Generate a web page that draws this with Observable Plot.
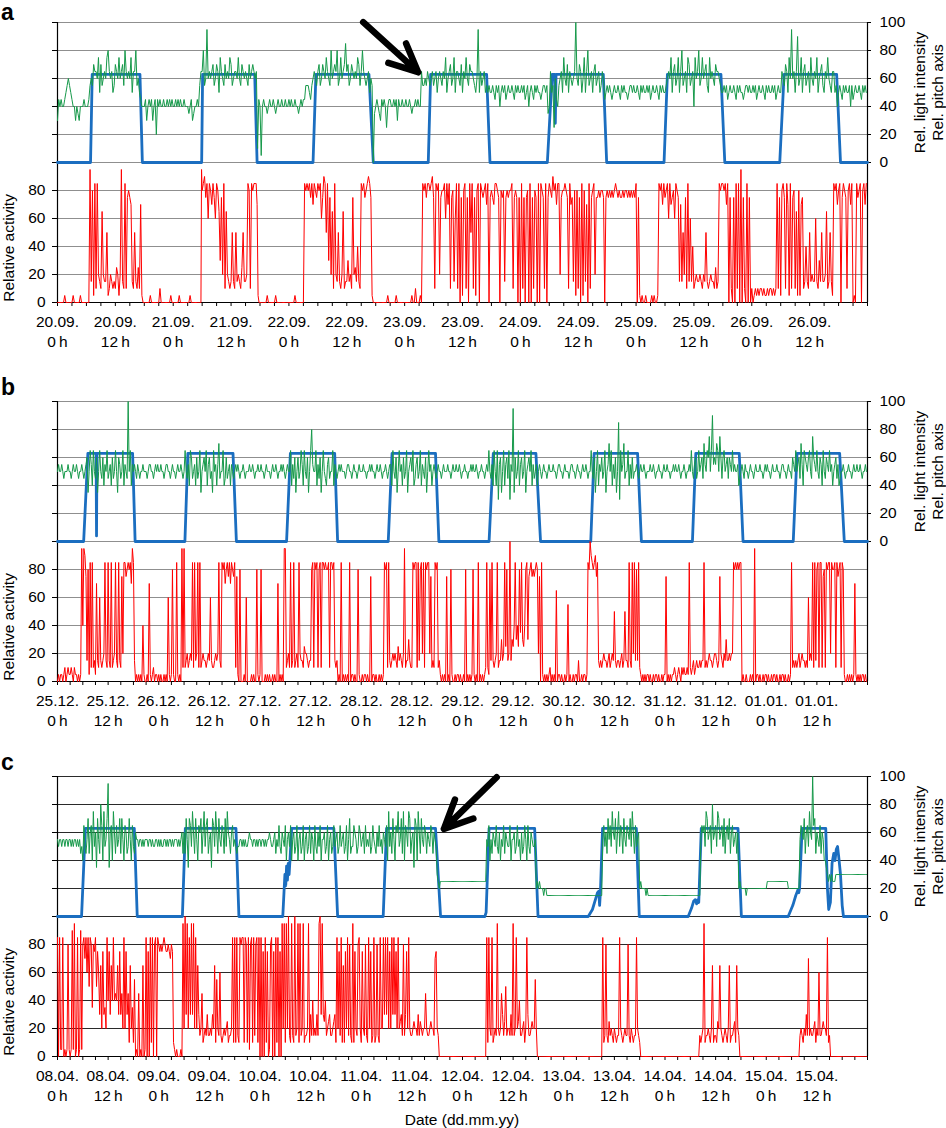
<!DOCTYPE html>
<html><head><meta charset="utf-8">
<script src="https://cdn.jsdelivr.net/npm/d3@7"></script>
<script src="https://cdn.jsdelivr.net/npm/@observablehq/plot@0.6"></script>
<style>
body{margin:0;background:#fff;}
#chart{width:946px;height:1128px;overflow:hidden;background:#fff;}
#chart svg{display:block;}
</style></head><body><div id="chart"></div>
<script>
// ---------- tick labels ----------
const daysA = ["20.09.","21.09.","22.09.","23.09.","24.09.","25.09.","26.09."];
const daysB = ["25.12.","26.12.","27.12.","28.12.","29.12.","30.12.","31.12.","01.01."];
const daysC = ["08.04.","09.04.","10.04.","11.04.","12.04.","13.04.","14.04.","15.04."];
const hourLabels = ["0\u2009h", "12\u2009h"];
const leftTicks = [0, 20, 40, 60, 80];
const rightTicks = [0, 20, 40, 60, 80, 100];
const leftTitle = "Relative activity";
const rightTitle = "Rel. light intensity\nRel. pitch axis";
const xTitle = "Date (dd.mm.yy)";

// ---------- series values ----------
// Noisy series: one string per day, 24 space-separated hour chunks;
// each character is one reading inside that hour, in steps of 5:
// 0=0 a=5 1=10 b=15 2=20 c=25 3=30 d=35 4=40 e=45 5=50 f=55 6=60 g=65 7=70 h=75 8=80 i=85 9=90 j=95 k=100
const activityA = [
"0000 00a0 0000 0a00 000a 0000 000j b8ai 1i2b 1g2b b5a1 2b1b 1c2a 2jb1 i1h8 h7b1 5b1c 17a0 0000 0a00 0000 0100 0000 00a0",
"0000 0a00 0000 00a0 0000 0000000j 8i9h i6i8 7ih6 i8g3 h2i1 g2b1 b5b1 5b2b 1c5b b2i8 1i8i ii7a0 0000 00a0 0000 0a00 0000 0000",
"0000 0a00 0000 0i8i 8ihi 7i8h i8i6 h9i5 i3h2 g1i2 b5b1 2g1b b3b2 1h2c b4b1 i8ih 8i9i ha00 0000 0000 00a0 0000 0a00 0000",
"0000 00a0 0100 0a0i 8ihi i8i9 h1i8 i2h8 8i6i 7i1h 8b6i 1i0h a8i1 h0i5 i1ha 8i0i 8h8i 7i0h 8h7i i8h0 8h8b h8h8 8i1h 8h0h",
"0i1h 0h80 i0h1 8h0i 0i8h 1i0h i8h9 8i7i i2h8 8i8h 1i7h b8a8 1h0i a8b7 0i1h 8i2h h8h8 8h0h 8h8h 8h8i 8h8h h8h8 8h8h 8h8h",
"i0ha 0a00 a000 0a0a 00ai 8i7i h8i6 i7h8 6i8h b7b5 2h1i b6b4 1b2b b2b1 2b5b 1b2b b1c1 bi8i i8i7 i0h1 0h0i 1i0j 0h10 i0h0",
"10a1 a1a1 1a1a a1a1 1a1a 1i1h a8ih 1i7a i1h8 1ga8 a7h1 b4b1 5b2b b6b1 3b5b b2g1 b5ba i8i7 8i0h i8h1 8i7i 0a0i h8i0 8i7i"
];
const pitchA = [
"3e4e 44e5 f6f5 e443 4d34 44e4 44ef 6f7g g6h5 7f6g 6h8g 6g5f 7g6h 6g7f 8g6g 6h5g g8f6 5e44 4e34 e4e3 4e2e 4e44 e44e 4e4e",
"44e4 e4e4 4e44 4d4e 3d44 e4fg g8f6 j6g6 g7f6 7g5h g6f7 6g6h 7f6g g6h6 f7g6 g6f7 6g7g 6g1e 4a4e 44d4 e44e 4d4e 44e4 4e44",
"e4e4 4e44 d4e4 eeff f5ef 6g6f g7f6 7g6h g6f8 6g7g 8f6h 6g7i g7f6 7g6g 6h7f g8g6 f6g5 6f0d 4e4d 3e4e 4c4e e44e 4e3e 44e4",
"4e44 e4d4 4e4e 44gf f6fg 6f6g f6g5 6g6f g6h5 6g7f 6h5g g6f7 5g6h 6f7g g6f5 6j5g f6g5 f5f5 5f5e f5f4 5f5f e5f5 5f5e f5f5",
"5f5f e5f4 5f5e f5f5 5e5f f5fd 4g5f c6e4 f6g5 h6f7 5g6f 6gk6 f7g5 6h5g 8f6g 5g7f 6g5f g6e5 f5f5 e5f5 5f5e f5f5 5e5f f5f5",
"5f5e f5f5 5f5f e5f5 5f5e f5f5 5f6g 6h5g 7f6h 5g8f 6g5h 7f6g 4h6g 8f6h 6g7f 5h6g 6f7g g6f5 5f5f e5f5 5f5e f5f5 5e5f f5f5",
"5f5f e5f5 5f5e f5f5 5f5f e5f5 5g6f 7g5h 6j6g 5g9f 6h5g 7f6g 5h6f g6h5 6g7f 5g6h 6f5g g5f4 5f5e f5f5 5f4f e5f5 5f5e f5f5"
];
const activityB = [
"0a0a a0a1 0a1a a1a0 1aa0 a0aj 4j9h b8ai 1i1b a7b1 6b1b 2ib1 ib1i 1b2i b1ib 1h2i ih8i 8i7j ib0a 0a0a 04a0 0a07 a0a1 0aa0",
"a0a0 0a0a 06a0 a8a0 0ia0 a0j1 j1b2 1b2b i1ib 2i1i 1b2b b1b2 b6b1 1b2b 2ib1 i8i7 8ihi 7i8h i1ha 0800 0a06 0000 a0a0 08a0",
"a800 0a0a 0a00 a0a0 070a 0a0j j1b2 1i1b i1b2 1i2b b1c2 2b1b b8i1 i8i1 8i1i i8i8 8i1i i8ib 1b0a 0i0a 0a0a 0i0a a0a0 08a0",
"0a0a a0a0 0h0a a0a0 0a0a 0ai8 i1ib 1b2b 2b1c b2b1 2j1b b3b1 1i8i i1ib 8i2i 1i8i i2h1 b1i8 i1ba 0a0a 0h0a 08a0 0a0a a0a0",
"0a08 0a0a 0a8a 0a0i 0a0a 0a1i 1a8b ib1b 2i1b b3b2 ic8b 2kb3 c4i3 4c8d i3c4 8i3h 8ih8 h8i8 2h0i a0a0 a0a1 0a0a 0g0a a0a0",
"0a0a f0a0 0a0a a0b0 0a0a a0ai 8k9i 8i9h ib1b 1b2b b1b2 1b2b 5b1b b1b2 1b5b b1ib 1i2i b8bi 1a0a 0a0a a0a0 0a0a a0a0 0a0a",
"ah0a 0a0a a1a0 a1a0 1a1a a1ai 1a1b a1b1 1b1b bi1b 1b2b b1b2 2b1b h2b1 2b3b b2b2 2i8i 8i8i i0a0 0a00 0a0a 0j0a a0a0 0a0a",
"a0a0 0a0a a0a0 0a0a a0a0 0a0a i1b1 b1b2 1b2b b1b1 6b2b i1ib 8i1i i1h8 1i8i i2i8 8i1i h8i1 i8a0 0a0a 0a0a 7a0a 0a0a a0a0"
];
const pitchB = [
"5f55 f5e5 55f5 5e5f 55f5 e55f 5e5f 6d5g f4g5 e6d5 g5e6 4f5g e5f4 6e5g 5d6f e5g4 f5ek 5g4f 5f5e f5e5 5f55 5e5f f55e 5f5f",
"55f5 5e5f f55e 5f55 e5f5 5f5e 5g5e f4g6 e5f4 6e5g d5f6 5g4f 6e5d g5f4 f7e5 5g4e 6e5f 4f5e 5f5f 5e55 f5e5 55f5 5f5e 55f5",
"5f55 e5f5 55e5 f55f 5e55 f5f5 e5f5 5g4f e6d5 6e5g f4g5 e6d5 g8f5 5g4f e6d5 g5e4 f6e5 5g4f 5e5f 5f55 5e5f f55e 5f55 e5f5",
"55f5 5e55 f5f5 5e5f 55f5 e55f 5e5f f4g5 e6d5 g5f4 6e5g d5f6 5g4e f6e5 g4f5 e6d5 g5f4 5f5e 5f55 e5f5 55f5 5e5f 55f5 5f5e",
"55f5 5e55 f5f5 5f5e 55f5 5e5f 5g5e f4g5 4g3f 6d5g 4f6e g3f5 jd6e 5g4f 6e5g d5f6 5g4f e5f4 5f5e 5f55 e5f5 55f5 5e5f f55e",
"5f55 5e5f f55e 5f55 e5f5 5f5e 55g5 e6d5 g4f5 6e5g d5f7 5g4f e6d5 i3g5 f7e5 5g4f e6e5 5f5e 5f55 f5e5 55f5 5f5e 55f5 5e5f",
"55f5 5e55 f5f5 5f5e 55f5 e55f 5g5e f6e5 g5f6 e7f5 g6h5 g9f6 f7g5 h6e6 g5f6 e6f5 g5f5 5f4e 5f5e f55e 5f55 e5f5 55f5 5e5f",
"5f55 e5f5 55f5 5e5f f55e 5f55 e6f5 g5f6 e7f4 g6f5 6g5e h6f5 g5e6 f4g5 e6f5 g5f4 5f6e f4e5 5f5e 55f5 5e5f 55f5 5f5e 55f5"
];
const activityC = [
"i0ia ai0a 0a8a 0a9a j0ai 0a9a 8i7i 6i5i 8d8h i5h6 3g2h 3d2i 4h3g 4i4e 4g3h 3e2i 2h3e 1g2d 1f0a 0e0a 0g0a i0h0 i1i0 8i0i",
"8h8h 8i8h h8h7 8h1a 0a00 0a0j 2k3j 2i3j 3j2i 2g3b 2e1b 2b3b b2b3 2g1f 2b6b 1b2b 2c1b b2i1 i1ib 1i8i i1i8 1ia8 i1ib 8i1i",
"0i0h 0i1h 0a8i 0h0i 1i0h 0j2j 1j2k b1jb 1kb2 j1jb 2j1b b2j1 3b4b 2b3b jk3j 3c4b 2c3b b2c3 1i2h bi1g 1h2i b8b1 j1h2 b8i2",
"1h2b 8b1i 2h1b i1b8 b1i2 2i3i 3i2h 2i3i 3h2i 2c3b 8b3h 2i2b b2c2 2b3b c2b2 2e2b b2c2 2b7h 2b00 0000 0000 0000 0000 0000",
"0000 0000 0000 0000 0000 000i 1i2b i1b2 bj2b 2e3b c5b2 2b3b jb2i 2c4b b2c1 2i3b b2c2 2f20 0000 0000 0000 0000 0000 0000",
"0000 0000 0000 0000 0000 0000 0000 0000 0000 0i1b 8b1c b2b1 2b1b bi2b 1b2b b8b1 2b1b bi2b 1000 0000 0000 0000 0000 0000",
"0000 0000 0000 0000 0000 0000 0000 0000 0b1b 2j1b b2b1 2g1b b1c2 g2b1 b2b1 2g1b b2c1 g2b0 0000 0000 0000 0000 0000 0000",
"0000 0000 0000 0000 0000 0000 0000 0000 b2b1 2b3b 7b2b b2c1 2b6b b2c2 2bi1 b000 0000 0000 0000 0000 0000 0000 0000 0000"
];
const pitchC = [
"f5ff 5ff5 ff5f f5f5 ff5f 5fe5 4g5e f7e6 g4h5 6d7f e8g4 h5f7 jd6g 4h6e g5f7 e7f4 g6e5 7f4g 5e6f f5ff 5f5f ff5f f5f5 5ff5",
"f5f5 5ff5 f5ff 5f5f ff5f 5f6e 6e7f d7g5 h6e7 f4g6 7e6h 5g7e f6d7 g5h6 e7f5 g6e7 5h6f e6g5 f5e5 5ff5 f5f5 5f6f f5ff 5f5f",
"f5ff 5f5f f6f5 5f6e f5g5 e6f5 g4f6 5g4f 6e5g 4f6e 5g4f 6e5g e6f4 g5e6 5g4f f6e5 g4f6 e5g5 f6e5 g5f6 e5g4 f7e5 5g6f e5g6",
"5f6e g5f5 6e5g f5e6 5g5f e6f5 g4h5 6e7f 4g6h 5f7e h4g6 5h7e f6d7 g4h6 e7f5 g6e6 f5g6 e6f5 3c2c cccc cccc cccc cccc cccc",
"cccc cccc cccc cccc cccc cccf 5g4f e6f5 g5e6 4f5g e6f5 5g4f f6e5 g5f4 6e5g f4g5 e6f5 5f2c 2c22 2b22 bbbb bbbb bbbb bbbb",
"bbbb bbbb bbbb bbbb bbbb bbbb bbbb bbbb bbbb bfg5 6e7f g5h6 f7e6 h5g6 e7f5 g6f7 5h6e g5f6 2c22 22b2 bbbb bbbb bbbb bbbb",
"bbbb bbbb bbbb bbbb bbbb bbbb bbbb bbbb bbfg 6g5h 7f6g e8f6 g5h7 f6g5 7e6g f7e6 g5f6 e62c 2222 2b22 2222 2222 2222 2222",
"2ccc cccc cccc cccc cccc c222 2222 2222 fg6f 7e6g 5h6f kg7e 6f5g e6f4 4d3c 3c3c cc33 3333 3333 3333 3333 3333 3333 3333"
];
// Light intensity: [hours since first midnight, value]
const lightA = [[0,0],[6.85,0],[7.2,63],[17.1,63],[17.6,0],[29.9,0],[30.1,63],[40.9,63],[41.4,0],
 [53.0,0],[53.6,63],[64.6,63],[65.5,0],[76.9,0],[77.4,63],[89.0,63],[89.7,0],
 [101.6,0],[102.6,63],[103.1,63],[103.25,28],[103.4,63],[113.2,63],[113.9,0],
 [125.8,0],[126.5,63],[137.6,63],[138.4,0],[149.8,0],[150.7,63],[161.6,63],[162.4,0],[168,0]];
const lightB = [[0,0],[6.2,0],[7.2,63],[9.15,63],[9.25,4],[9.35,63],[17.8,63],[18.4,0],
 [30.2,0],[30.9,63],[41.6,63],[42.4,0],[54.3,0],[55.2,63],[65.7,63],[66.4,0],
 [78.4,0],[79.3,63],[89.6,63],[90.4,0],[102.3,0],[103.3,63],[113.4,63],[114.5,0],
 [126.4,0],[127.2,63],[137.5,63],[138.4,0],[150.5,0],[151.3,63],[161.6,63],[162.5,0],
 [174.4,0],[175.3,63],[185.4,63],[186.5,0],[192,0]];
const lightC = [[0,0],[5.7,0],[6.6,63],[18.2,63],[18.9,0],[29.6,0],[30.3,63],[42.3,63],[43.0,0],
 [53.4,0],[53.7,18],[53.9,30],[54.1,22],[54.3,36],[54.5,26],[54.7,38],[54.9,30],[55.1,40],[55.5,63],[65.5,63],[66.4,0],
 [77.2,0],[78.0,63],[89.6,63],[90.8,0],[101.3,0],[101.6,3],[102.3,63],[113.1,63],[113.9,0],
 [125.8,0],[126.8,5],[127.5,12],[128.0,17],[128.3,18],[128.5,8],[128.7,18],[129.2,63],[137.2,63],[137.9,0],
 [149.5,0],[150.3,6],[150.8,11],[151.2,12],[151.5,9],[151.8,12],[152.0,10],[152.6,63],[161.3,63],[162.1,0],
 [173.2,0],[174.3,8],[175.0,15],[175.5,19],[175.7,17],[175.9,20],[176.5,63],[182.1,63],[182.5,20],[182.8,5],
 [183.2,10],[183.6,38],[184.0,45],[184.3,40],[184.6,48],[184.9,50],[185.2,42],[185.6,30],[186.0,8],[186.3,0],[192,0]];
// Arrows (tail -> tip; hours, upper-axis units)
const arrowA = {t1: 63.4, v1: 100.2, t2: 74.8, v2: 64.5};
const arrowC = {t1: 104.1, v1: 99.5, t2: 91.6, v2: 62.6};

// ---------- drawing ----------
const CODE = "0a1b2c3d4e5f6g7h8i9jk";
function decode(days) {
  const out = [];
  days.forEach((day, d) => {
    const hours = day.trim().split(/\s+/);
    if (hours.length !== 24) console.warn("day", d, "has", hours.length, "chunks");
    hours.forEach((chunk, h) => {
      for (let j = 0; j < chunk.length; j++)
        out.push({t: d * 24 + h + j / chunk.length, v: CODE.indexOf(chunk[j]) * 5});
    });
  });
  return out;
}
const FONT = "'Liberation Sans', Arial, Helvetica, sans-serif";
const RED = "#ff0000", GREEN = "#16994a", BLUE = "#1b6ec0";
const W = 946, ML = 57, MR = 79, TOP = 22, BOTTOM = 302;

function arrowMark(a, end) {
  // lengthen the stem backwards and trim it again with insetStart,
  // so that Plot does not shrink the arrowhead on this short arrow
  const k = 0.35;
  const pxPerHour = (W - ML - MR) / end, pxPerUnit = (BOTTOM - TOP) / 200;
  const len = Math.hypot((a.t2 - a.t1) * pxPerHour, (a.v2 - a.v1) * pxPerUnit);
  const ext = {t1: a.t1 - k * (a.t2 - a.t1), v1: a.v1 - k * (a.v2 - a.v1), t2: a.t2, v2: a.v2};
  return Plot.arrow([ext], {x1: "t1", y1: d => d.v1 + 100, x2: "t2", y2: d => d.v2 + 100,
    stroke: "#000", strokeWidth: 6.5, headAngle: 50, headLength: 7.2, insetStart: k * len});
}

function panel({letter, letterBase, days, light, pitch, activity, arrow, grid, height, xTitleOn}) {
  const end = days.length * 24;
  const xLabels = days.flatMap((d, i) => [0, 12].map((h, j) => ({t: i * 24 + h, label: d + "\n" + hourLabels[j]})));
  const marks = [
    Plot.ruleY(d3.range(20, 201, 20), {stroke: grid, strokeWidth: 1}),
    Plot.ruleX([0, end], {y1: 0, y2: 200, stroke: "#000", strokeWidth: 1.2}),
    Plot.ruleY([0], {stroke: "#000", strokeWidth: 1.2}),
    Plot.ruleY(d3.range(0, 201, 20), {x1: 0, x2: 0, insetLeft: -5, stroke: "#000"}),
    Plot.ruleY(rightTicks.map(v => v + 100), {x1: end, x2: end, insetRight: -4, stroke: "#000"}),
    Plot.ruleX(d3.range(0, end + 1, 3), {y1: 0, y2: 0, insetBottom: -4, stroke: "#000"}),
    Plot.line(light.map(([t, v]) => ({t, v})), {x: "t", y: d => d.v + 100, stroke: BLUE, strokeWidth: 2.8, strokeLinejoin: "round"}),
    Plot.line(decode(pitch), {x: "t", y: d => d.v + 100, stroke: GREEN, strokeWidth: 1}),
    Plot.line(decode(activity), {x: "t", y: "v", stroke: RED, strokeWidth: 1}),
    Plot.text(leftTicks, {y: d => d, text: d => d, frameAnchor: "left", textAnchor: "end", dx: -12}),
    Plot.text(rightTicks, {y: d => d + 100, text: d => d, frameAnchor: "right", textAnchor: "start", dx: 12}),
    Plot.text(xLabels, {x: "t", text: "label", frameAnchor: "bottom", lineAnchor: "top", dy: 10.5, lineHeight: 1.3}),
    Plot.text([leftTitle], {x: () => 0, y: () => 39, dx: -48.5, rotate: -90, textAnchor: "middle", lineAnchor: "middle"}),
    Plot.text([rightTitle], {x: () => end, y: () => 150, dx: 61, rotate: -90, textAnchor: "middle", lineAnchor: "middle", lineHeight: 1.12}),
    Plot.text([letter], {frameAnchor: "top-left", dx: -ML + 0.5, dy: letterBase - TOP, lineAnchor: "bottom", textAnchor: "start", fontWeight: "bold", fontSize: 23})
  ];
  if (arrow) marks.push(arrowMark(arrow, end));
  if (xTitleOn) marks.push(Plot.text([xTitle], {frameAnchor: "bottom", dx: -0.5, dy: 68, lineAnchor: "bottom"}));
  return Plot.plot({
    width: W, height, marginLeft: ML, marginRight: MR, marginTop: TOP, marginBottom: height - BOTTOM,
    x: {domain: [0, end], axis: null},
    y: {domain: [0, 200], axis: null},
    style: {fontFamily: FONT, fontSize: "15.5px", background: "#fff", color: "#000", overflow: "visible"},
    marks
  });
}

const chart = document.getElementById("chart");
chart.append(panel({letter: "a", letterBase: 19, days: daysA, light: lightA, pitch: pitchA, activity: activityA, arrow: arrowA, grid: "#8f8f8f", height: 379}));
chart.append(panel({letter: "b", letterBase: 15, days: daysB, light: lightB, pitch: pitchB, activity: activityB, grid: "#8f8f8f", height: 375}));
chart.append(panel({letter: "c", letterBase: 15, days: daysC, light: lightC, pitch: pitchC, activity: activityC, arrow: arrowC, grid: "#2a2a2a", height: 374, xTitleOn: true}));
</script></body></html>
